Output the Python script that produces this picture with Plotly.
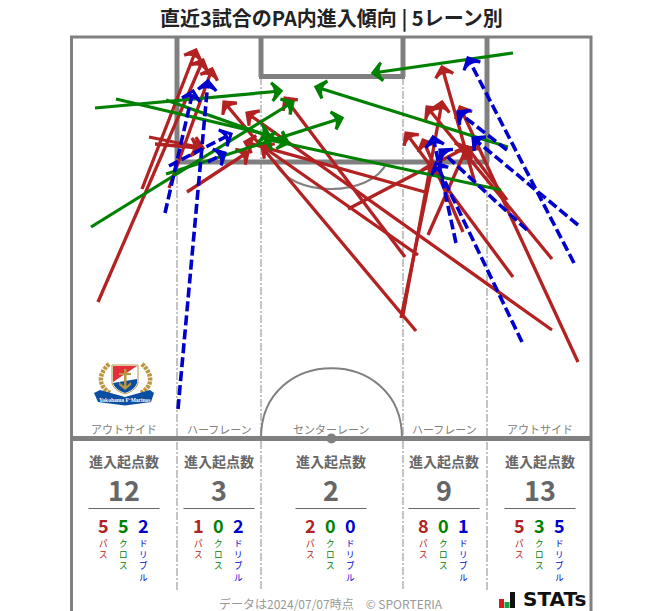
import plotly.graph_objects as go

# Entry vectors: start x, start y, end x, end y (in chart units)
pass_runs = [
    (142, 189, 196, 50), (98, 302, 203, 60), (169, 188, 212, 69),
    (149, 137, 203, 148), (155, 144, 200, 148), (187, 192, 248, 152),
    (348, 209, 467, 147), (401, 318, 433, 163),
    (416, 331, 224, 102), (405, 257, 285, 98), (418, 255, 262, 146),
    (425, 192, 245, 142), (463, 232, 423, 140), (428, 235, 467, 147),
    (475, 183, 442, 67), (403, 315, 442, 102),
    (578, 362, 460, 107), (552, 330, 247, 113), (513, 277, 406, 133),
    (552, 259, 427, 107), (507, 200, 467, 147),
]
cross_runs = [
    (95, 108, 281, 91), (116, 99, 269, 135), (166, 100, 288, 143),
    (91, 227, 293, 102), (166, 174, 342, 118),
    (513, 53, 373, 73), (508, 147, 316, 87), (501, 190, 265, 139),
]
dribble_runs = [
    (165, 213, 193, 91), (178, 409, 208, 81),
    (169, 166, 231, 134), (208, 162, 225, 153),
    (456, 243, 433, 137),
    (578, 225, 473, 138), (574, 263, 468, 58), (527, 230, 440, 150),
    (507, 150, 458, 112), (522, 342, 436, 163),
]

lane_names = ["アウトサイド", "ハーフレーン", "センターレーン", "ハーフレーン", "アウトサイド"]
lane_centers = [124, 219, 331, 444, 540]
lane_totals = [12, 3, 2, 9, 13]
lane_pass = [5, 1, 2, 8, 5]
lane_cross = [5, 0, 0, 0, 3]
lane_dribble = [2, 2, 0, 1, 5]

RED, GREEN, BLUE, GREY = "#b22222", "#008000", "#0000cd", "#808080"
TXT = "#666666"
JP = "Noto Sans CJK JP"

fig = go.Figure()
shapes, anns = [], []


def line(x0, y0, x1, y1, width=5, color=GREY, dash=None):
    shapes.append(dict(type="line", x0=x0, y0=y0, x1=x1, y1=y1, layer="below",
                       line=dict(color=color, width=width, dash=dash or "solid")))


def label(x, y, text, size, color=TXT, bold=False, family=JP, yanchor="middle"):
    if bold:
        text = f"<b>{text}</b>"
    anns.append(dict(x=x, y=y, text=text, showarrow=False, xanchor="center", yanchor=yanchor,
                     borderpad=0, borderwidth=0,
                     font=dict(size=size, color=color, family=family)))


# Pitch
shapes.append(dict(type="rect", x0=71.5, y0=37, x1=591, y1=640, layer="below",
                   line=dict(color=GREY, width=3)))
for x, y0 in [(177, 162), (261, 77), (403, 77), (487, 162)]:
    line(x, y0, x, 591, width=1, color="#888888", dash="8px,2px,2px,2px")
line(177, 37, 177, 162)
line(487, 37, 487, 162)
line(175, 162, 489, 162)
line(261, 37, 261, 77)
line(403, 37, 403, 77)
line(259, 76.5, 405, 76.5)
line(71, 438.5, 591, 438.5)
shapes.append(dict(type="path", layer="below", line=dict(color=GREY, width=2),
                   path="M 275 162 C 290 198, 372 198, 387 162"))
shapes.append(dict(type="path", layer="below", line=dict(color=GREY, width=2),
                   path="M 261 438 C 261 345, 402 345, 402 438"))
shapes.append(dict(type="circle", x0=326.5, y0=433.5, x1=336.5, y1=443.5, layer="below",
                   fillcolor=GREY, line=dict(width=0)))


# Arrows
def arrows(runs, color, name, dash=None, width=3.2):
    for x0, y0, x1, y1 in runs:
        fig.add_trace(go.Scatter(
            x=[x0, x1], y=[y0, y1], mode="lines+markers", name=name, showlegend=False,
            hoverinfo="skip",
            line=dict(color=color, width=width, dash=dash or "solid"),
            marker=dict(symbol=["circle", "arrow-wide-open"], size=[0, 13], angleref="previous",
                        opacity=1, color=color, line=dict(color=color, width=3.2)),
        ))


arrows(pass_runs, RED, "パス", width=3.3)
arrows(cross_runs, GREEN, "クロス", width=3.2)
arrows(dribble_runs, BLUE, "ドリブル", dash="10px,4px", width=3.6)

# Lane captions and counts
label(331, 17.5, "直近3試合のPA内進入傾向 | 5レーン別", 20, "#222222", bold=True)
for i, cx in enumerate(lane_centers):
    label(cx, 428.5, lane_names[i], 11, "#808080")
    label(cx, 461, "進入起点数", 14, TXT, bold=True)
    label(cx, 489.5, str(lane_totals[i]), 27, TXT, bold=True)
    line(cx - 35.5, 508.5, cx + 35.5, 508.5, width=1.2, color="#666666")
    for dx, val, word, col in [(-21, lane_pass[i], "パス", RED),
                               (-1, lane_cross[i], "クロス", GREEN),
                               (19, lane_dribble[i], "ドリブル", BLUE)]:
        label(cx + dx, 524.5, str(val), 18, col, bold=True)
        label(cx + dx, 536.5, "<br>".join(word), 8.6, col, yanchor="top")

label(331, 603, "データは2024/07/07時点　© SPORTERIA", 12, "#999999")

# STATs mark
for x0, x1, y0, col in [(499, 504, 599, "#d01c1f"), (504.5, 509.5, 602, "#16a03c"), (510, 515, 592, "#111111")]:
    shapes.append(dict(type="rect", x0=x0, x1=x1, y0=y0, y1=608, fillcolor=col, line=dict(width=0)))
label(554, 599, "STATs", 20, "#111111", bold=True, family="DejaVu Sans")

# Club crest
GOLD = "#b9963f"
NAVY = "#0b4ea2"
for pts in ["M 109 364 C 98 374, 98 386, 110 393", "M 142 364 C 153 374, 153 386, 141 393"]:
    shapes.append(dict(type="path", path=pts, line=dict(color=GOLD, width=4.5, dash="3px,1px")))
shapes.append(dict(type="path", path="M 112 365 L 138 365 L 138 383 C 136 390, 130 392, 125 394 C 120 392, 114 390, 112 383 Z",
                   fillcolor="#ffffff", line=dict(color=GOLD, width=1)))
shapes.append(dict(type="path", path="M 113 366 L 137 366 L 113 382 Z", fillcolor="#e1303c", line=dict(width=0)))
shapes.append(dict(type="path", path="M 113 383 L 137 379 L 137 383 C 135 389, 130 391, 125 393 C 120 391, 115 389, 113 383 Z",
                   fillcolor=NAVY, line=dict(width=0)))
shapes.append(dict(type="path", path="M 124 369 L 126.5 369 L 126.5 373 L 131 373 L 131 375 L 126.5 375 L 126.5 386 L 131 382 L 131 385 L 125 390 L 119 385 L 119 382 L 124 386 L 124 375 L 119 375 L 119 373 L 124 373 Z",
                   fillcolor=GOLD, line=dict(width=0)))
shapes.append(dict(type="path", path="M 94 393 L 100 390 L 125 397 L 150 390 L 154 393 L 151 402 L 125 405.5 L 98 402 Z",
                   fillcolor=NAVY, line=dict(width=0)))
label(124.5, 400, "Yokohama F·Marinos", 5.5, "#ffffff", bold=True, family="Liberation Serif")

fig.update_layout(
    width=663, height=611, margin=dict(l=0, r=0, t=0, b=0),
    paper_bgcolor="white", plot_bgcolor="white", showlegend=False,
    xaxis=dict(range=[0, 663], visible=False, fixedrange=True),
    yaxis=dict(range=[611, 0], visible=False, fixedrange=True),
    shapes=shapes, annotations=anns,
)
fig.write_html("out.html", config=dict(displayModeBar=False),
               post_script="document.body.style.margin='0';document.documentElement.style.overflow='hidden';")
